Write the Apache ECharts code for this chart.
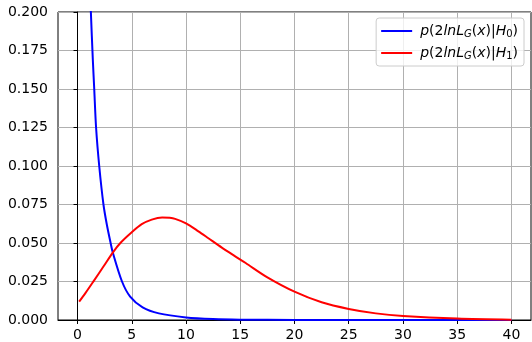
<!DOCTYPE html>
<html>
<head>
<meta charset="utf-8">
<script src="https://cdn.jsdelivr.net/npm/echarts@6/dist/echarts.min.js"></script>
<style>
  html, body { margin: 0; padding: 0; background: #fff; }
  #chart { width: 532px; height: 342px; }
</style>
</head>
<body>
<div id="chart"></div>
<script>
// 读图得到的数据点
var h0X = [1.0, 1.23, 1.41, 1.54, 1.71, 2.0, 2.39, 2.7, 3.05, 3.25, 4.1, 4.85, 6, 7.5, 10, 12.5, 15, 20, 25, 30, 35, 40];
var h0Y = [0.245, 0.2, 0.169, 0.15, 0.125, 0.1, 0.075, 0.062, 0.05, 0.0438, 0.025, 0.0152, 0.0082, 0.0043, 0.0017, 0.0006, 0.0002, 0.00003, 0, 0, 0, 0];

var h1X = [0.15, 0.71, 1.47, 2.39, 3.25, 3.99, 5, 5.92, 6.84, 7.8, 8.5, 9, 10, 11.14, 12.06, 13.3, 14.5, 15.5, 17.5, 20, 22.5, 25, 27.5, 30, 35, 40];
var h1Y = [0.0119, 0.0173, 0.0251, 0.0347, 0.0438, 0.0503, 0.057, 0.0622, 0.0652, 0.0666, 0.0664, 0.0657, 0.0628, 0.0576, 0.0531, 0.047, 0.0415, 0.037, 0.0277, 0.0184, 0.0115, 0.0072, 0.0043, 0.0026, 0.0009, 0.0002];

var seriesNames = ['H0', 'H1'];
var xTicks = [0, 5, 10, 15, 20, 25, 30, 35, 40];
var yTicks = [0, 0.025, 0.05, 0.075, 0.1, 0.125, 0.15, 0.175, 0.2];

function pairs(xs, ys) {
    var out = [];
    for (var i = 0; i < xs.length; i++) {
        out.push([xs[i], ys[i]]);
    }
    return out;
}

var chart = echarts.init(document.getElementById('chart'));

var font = 'DejaVu Sans';

option = {
    animation: false,
    grid: {
        left: 58, right: 1, top: 12, bottom: 22,
        show: true, borderColor: '#000', borderWidth: 1
    },
    xAxis: {
        type: 'value',
        min: -1.8, max: 41.8,
        axisLine: { lineStyle: { color: '#000', width: 1 } },
        axisTick: { show: true, length: 4, lineStyle: { color: '#000' }, customValues: xTicks },
        axisLabel: {
            color: '#000', fontFamily: font, fontSize: 14, margin: 8,
            customValues: xTicks
        },
        splitLine: { show: true, lineStyle: { color: '#b0b0b0', width: 1 } }
    },
    yAxis: {
        type: 'value',
        min: yTicks[0], max: yTicks[yTicks.length - 1],
        interval: 0.025,
        axisLine: { show: true, lineStyle: { color: '#000', width: 1 } },
        axisTick: { show: true, length: 4, lineStyle: { color: '#000' } },
        axisLabel: {
            color: '#000', fontFamily: font, fontSize: 14, margin: 10,
            formatter: function (v) { return v.toFixed(3); }
        },
        splitLine: { show: true, lineStyle: { color: '#b0b0b0', width: 1 } }
    },
    legend: {
        orient: 'vertical',
        right: 8, top: 18,
        padding: [6, 6, 5, 5],
        itemWidth: 31, itemHeight: 2,
        itemGap: 7,
        icon: 'rect',
        backgroundColor: 'rgba(255,255,255,0.8)',
        borderColor: '#cccccc', borderWidth: 1, borderRadius: 3,
        data: seriesNames,
        formatter: function (name) {
            var sub = name.slice(1);
            return '{i|p}{r|(2}{i|lnL}{s|G}{r|(}{i|x}{r|)|}{i|H}{n|' + sub + '}{r|)}';
        },
        textStyle: {
            color: '#000', fontFamily: font, fontSize: 14, padding: [0, 0, 0, 3],
            rich: {
                i: { fontStyle: 'italic', fontFamily: font, fontSize: 14, color: '#000' },
                r: { fontFamily: font, fontSize: 14, color: '#000' },
                s: { fontStyle: 'italic', fontFamily: font, fontSize: 10, color: '#000', padding: [6, 0, 0, 0] },
                n: { fontFamily: font, fontSize: 10, color: '#000', padding: [6, 0, 0, 0] }
            }
        }
    },
    series: [
        {
            name: 'H0', type: 'line', smooth: 0.3, showSymbol: false,
            clip: true,
            lineStyle: { color: '#0000ff', width: 2 },
            itemStyle: { color: '#0000ff' },
            data: pairs(h0X, h0Y)
        },
        {
            name: 'H1', type: 'line', smooth: 0.3, showSymbol: false,
            lineStyle: { color: '#ff0000', width: 2 },
            itemStyle: { color: '#ff0000' },
            data: pairs(h1X, h1Y)
        }
    ]
};

chart.setOption(option);
</script>
</body>
</html>
